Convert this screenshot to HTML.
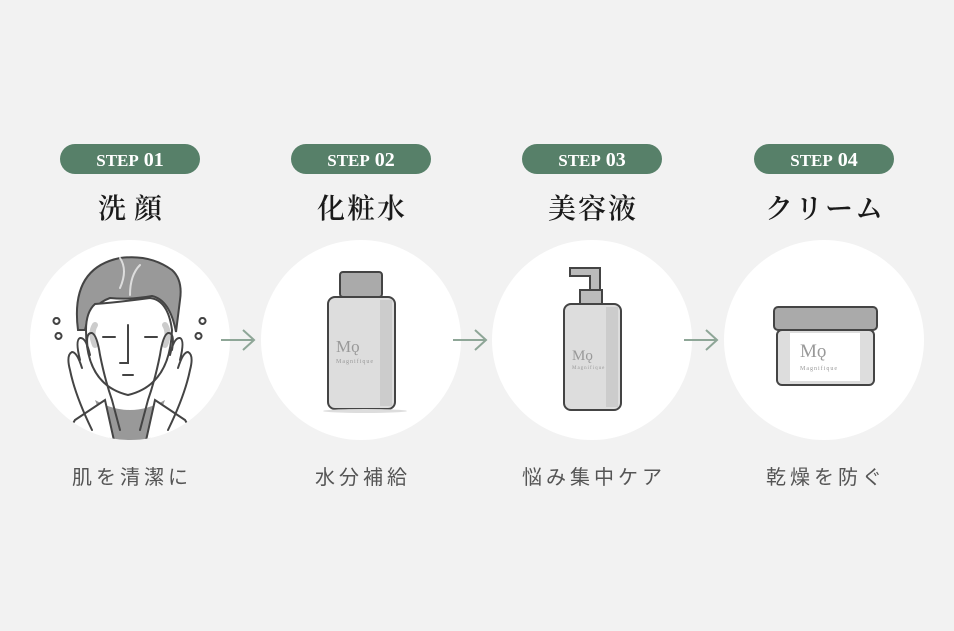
<!DOCTYPE html>
<html><head><meta charset="utf-8"><style>
html,body{margin:0;padding:0;background:#f2f2f2;width:954px;height:631px;overflow:hidden}
</style></head><body>
<svg width="954" height="631" viewBox="0 0 954 631" xmlns="http://www.w3.org/2000/svg">
<rect width="954" height="631" fill="#f2f2f2"/>
<g font-family="'Liberation Serif','Noto Serif CJK SC',serif">
<g fill="#578069">
<rect x="60" y="144" width="140" height="30" rx="15"/>
<rect x="291" y="144" width="140" height="30" rx="15"/>
<rect x="522" y="144" width="140" height="30" rx="15"/>
<rect x="754" y="144" width="140" height="30" rx="15"/>
</g>
<g fill="#fff" font-weight="bold" text-anchor="middle" font-size="20">
<text x="130" y="166"><tspan font-size="17">STEP</tspan> 01</text>
<text x="361" y="166"><tspan font-size="17">STEP</tspan> 02</text>
<text x="592" y="166"><tspan font-size="17">STEP</tspan> 03</text>
<text x="824" y="166"><tspan font-size="17">STEP</tspan> 04</text>
</g>
<g fill="#1a1a1a" text-anchor="middle" font-size="28" font-weight="600">
<text x="134" y="218" letter-spacing="8">洗顔</text>
<text x="362" y="218" letter-spacing="2">化粧水</text>
<text x="593" y="218" letter-spacing="2">美容液</text>
<text x="825" y="218" letter-spacing="2">クリーム</text>
</g>
</g>
<g fill="#fff">
<circle cx="130" cy="340" r="100"/>
<circle cx="361" cy="340" r="100"/>
<circle cx="592" cy="340" r="100"/>
<circle cx="824" cy="340" r="100"/>
</g>
<g stroke="#8ea697" stroke-width="2" fill="none">
<path d="M221 340H254M243 330L254 340L243 350"/>
<path d="M453 340H486M475 330L486 340L475 350"/>
<path d="M684 340H717M706 330L717 340L706 350"/>
</g>
<defs><clipPath id="c1"><circle cx="130" cy="340" r="100"/></clipPath></defs>
<g clip-path="url(#c1)" stroke="#444" stroke-width="2" fill="none" stroke-linecap="round">
<path d="M95 400 L110 440 L150 440 L165 400 Q130 420 95 400Z" fill="#999" stroke="none"/>
<path d="M75 420 L105 400 L115 445 L60 445Z" fill="#fff"/>
<path d="M185 420 L155 400 L145 445 L200 445Z" fill="#fff"/>
<path d="M78 330 Q70 268 120 258 Q150 254 172 270 Q183 280 180 300 L176 332 Q170 300 152 296 Q130 300 110 298 Q90 305 85 330 Z" fill="#999"/>
<path d="M86 330 Q86 385 128 395 Q170 385 172 330 Q168 300 150 298 Q120 302 95 304 Q86 312 86 330Z" fill="#fff"/>
<path d="M95 325q-5 8 0 20M165 325q5 8 0 20" stroke="#ccc" stroke-width="6"/>
<path d="M103 337h12M145 337h12M128 325v38h-8M123 375h10"/>
<path d="M120 258q8 12 0 30M140 265q-10 10-10 30" stroke="#ddd" stroke-width="2"/>
<path d="M92 430 Q75 395 70 370 Q66 355 72 352 Q77 352 82 368 M80 360 Q75 340 80 338 Q86 337 90 355 M88 350 Q85 332 92 333 Q97 335 100 355 Q105 380 112 400 L120 430"/>
<path d="M168 430 Q185 395 190 370 Q194 355 188 352 Q183 352 178 368 M180 360 Q185 340 180 338 Q174 337 170 355 M172 350 Q175 332 168 333 Q163 335 160 355 Q155 380 148 400 L140 430"/>
<path d="M56 318a3 3 0 1 0 1 0M58 333a3 3 0 1 0 1 0M202 318a3 3 0 1 0 1 0M198 333a3 3 0 1 0 1 0"/>
</g>
<g stroke="#444" stroke-width="2">
<rect x="340" y="272" width="42" height="25" rx="3" fill="#aaa"/>
<rect x="328" y="297" width="67" height="112" rx="7" fill="#ddd"/>
<rect x="380" y="300" width="12" height="106" fill="#ccc" stroke="none"/>
<ellipse cx="365" cy="411" rx="42" ry="2" fill="#ddd" stroke="none"/>
</g>
<g stroke="#444" stroke-width="2">
<path d="M570 268h30v22h-10v-14h-20z" fill="#bbb"/>
<rect x="580" y="290" width="22" height="14" fill="#bbb"/>
<rect x="564" y="304" width="57" height="106" rx="7" fill="#ddd"/>
<rect x="606" y="307" width="12" height="100" fill="#ccc" stroke="none"/>
</g>
<g stroke="#444" stroke-width="2">
<rect x="774" y="307" width="103" height="23" rx="4" fill="#aaa"/>
<rect x="777" y="330" width="97" height="55" rx="5" fill="#ddd"/>
<rect x="790" y="333" width="70" height="48" fill="#fff" stroke="none"/>
</g>
<g fill="#999" font-family="'Liberation Serif',serif">
<text x="336" y="352" font-size="17">Mǫ</text><text x="336" y="363" font-size="6" letter-spacing="1">Magnifique</text>
<text x="572" y="360" font-size="15">Mǫ</text><text x="572" y="369" font-size="5" letter-spacing="1">Magnifique</text>
<text x="800" y="357" font-size="19">Mǫ</text><text x="800" y="370" font-size="6" letter-spacing="1">Magnifique</text>
</g>
<g fill="#555" text-anchor="middle" font-family="'Liberation Sans','Noto Sans CJK JP',sans-serif" font-size="20" letter-spacing="4">
<text x="132" y="484">肌を清潔に</text>
<text x="363" y="484">水分補給</text>
<text x="594" y="484">悩み集中ケア</text>
<text x="826" y="484">乾燥を防ぐ</text>
</g>
</svg>
</body></html>
